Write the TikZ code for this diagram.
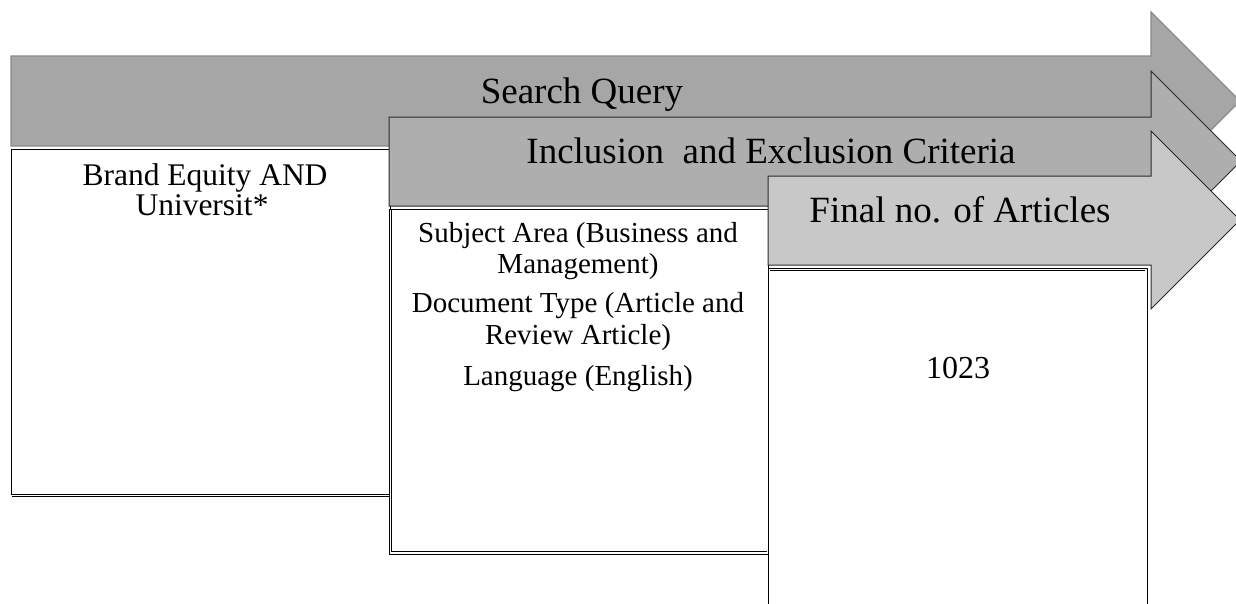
\documentclass[tikz,border=0pt]{standalone}
\usepackage{fontspec}
\setmainfont{Liberation Serif}
\definecolor{fillA}{HTML}{A6A6A6}
\definecolor{fillB}{HTML}{AEAEAE}
\definecolor{fillC}{HTML}{C8C8C8}
\definecolor{edgeA}{HTML}{8A8A8A}
\definecolor{edgeB}{HTML}{2A2A2A}
\definecolor{shade}{HTML}{8C8C8C}
\begin{document}
\begin{tikzpicture}[x=1pt,y=-1pt,
  arrowA/.style={fill=fillA, draw=edgeA, line width=1.2pt, line join=miter},
  arrowB/.style={fill=fillB, draw=edgeB, line width=1pt, line join=miter},
  arrowC/.style={fill=fillC, draw=edgeB, line width=1pt, line join=miter},
  panel/.style={draw=black, fill=white, line width=1.3pt, inner sep=0pt, anchor=north west, minimum width=379pt},
  ttl/.style={anchor=base, inner sep=0pt, font=\fontsize{37}{40}\selectfont},
  txt/.style={anchor=base, inner sep=0pt, font=\fontsize{31.5}{34}\selectfont},
  sub/.style={anchor=base, inner sep=0pt, font=\fontsize{29}{32}\selectfont},
  num/.style={anchor=base, inner sep=0pt, font=\fontsize{32}{34}\selectfont}]
\clip (0,0) rectangle (1236,603);
\fill[white] (0,0) rectangle (1236,603);
% Search Query arrow
\draw[arrowA] (11,56) -- (1151,56) -- (1151,12) -- (1240,101) -- (1151,190) -- (1151,146) -- (11,146) -- cycle;
\node[panel, minimum height=345pt] (box1) at (11,149) {};
\draw[shade, line width=0.8pt] (12,496) -- (389,496);
% Inclusion arrow
\draw[arrowB] (389,117) -- (1151,117) -- (1151,71) -- (1241,161) -- (1151,251) -- (1151,206) -- (389,206) -- cycle;
\node[panel, minimum height=345pt] (box2) at (389,209) {};
\draw[shade, line width=0.8pt] (391,210) -- (391,552) (391,551) -- (767,551);
% Final arrow
\draw[arrowC] (768,176) -- (1151,176) -- (1151,131) -- (1240,220) -- (1151,309) -- (1151,265) -- (768,265) -- cycle;
\node[panel, minimum height=400pt] (box3) at (768,268) {};
\draw[shade, line width=0.8pt] (770,270) -- (1145,270);
% titles
\node[ttl] (tsq) at (582,103) {Search Query};
\node[ttl] (tie) at (771,163) {Inclusion\ \ and Exclusion Criteria};
\node[ttl] (tfa) at (960,222) {Final no. of Articles};
% box 1
\node[txt] (q1) at (205,185) {Brand Equity AND};
\node[txt] (q2) at (202,215) {Universit*};
% box 2
\node[sub] (c1) at (578,242) {Subject Area (Business and};
\node[sub] (c2) at (578,273) {Management)};
\node[sub] (c3) at (578,312) {Document Type (Article and};
\node[sub] (c4) at (578,344) {Review Article)};
\node[sub] (c5) at (578,385) {Language (English)};
% box 3
\node[num] (n1) at (958,378) {1023};
\end{tikzpicture}
\end{document}
